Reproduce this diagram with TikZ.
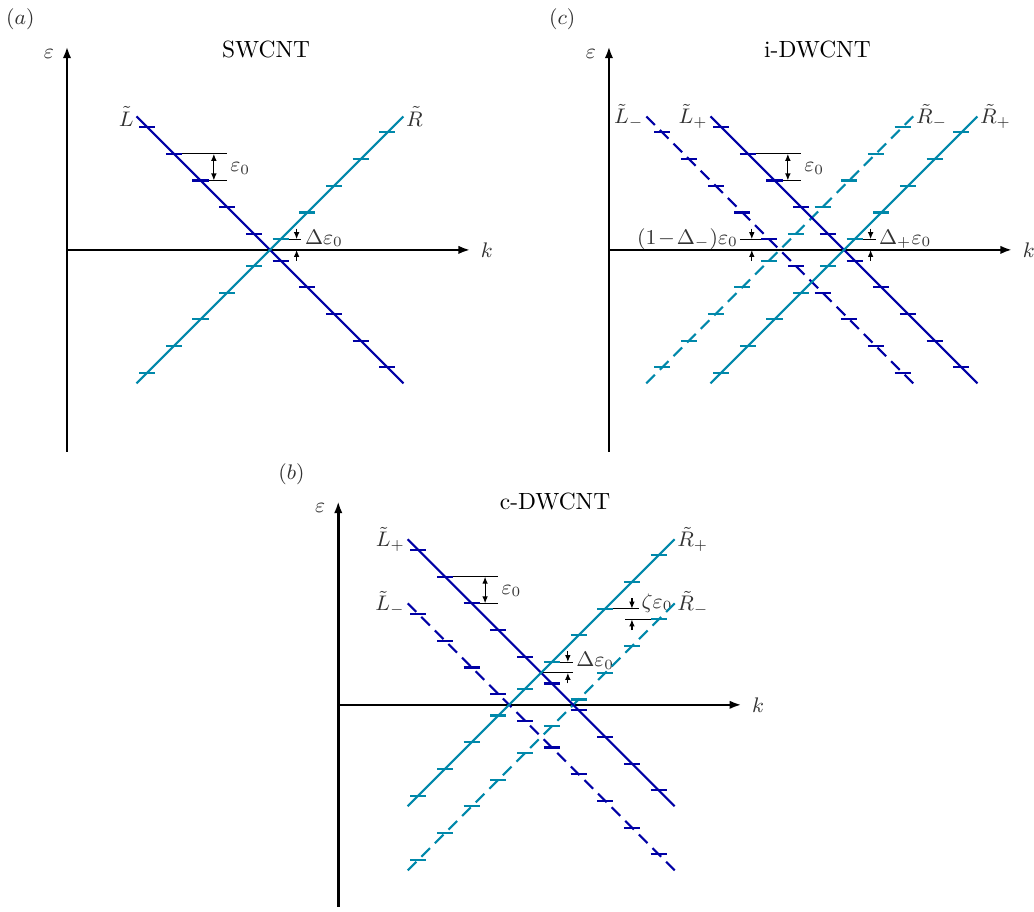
\documentclass[tikz,border=0pt]{standalone}
\usepackage{amsmath, amssymb}
\usepackage{tikz}
\usetikzlibrary{arrows.meta}
\usepackage{xcolor}
\definecolor{bandblue}{RGB}{0,0,165}
\definecolor{bandteal}{RGB}{0,136,170}

\tikzset{
  axis/.style={line width=1.1pt,-{Latex[length=5pt,width=3.6pt]}},
  lbranch/.style={bandblue,line width=0.9pt},
  rbranch/.style={bandteal,line width=0.9pt},
  dashbranch/.style={dash pattern=on 5.2pt off 3pt},
  guide/.style={line width=0.5pt},
  gap/.style={line width=0.5pt,-{Latex[length=3pt,width=2.4pt]}},
  gapboth/.style={line width=0.5pt,{Latex[length=3pt,width=2.4pt]}-{Latex[length=3pt,width=2.4pt]}},
  lab/.style={text=black!80,inner sep=1pt,font=\small},
  tight/.style={text=black!80,inner sep=0pt,font=\small},
}

% branch with its levels: style, crossing x, crossing y, slope, level offset
\newcommand{\branch}[5]{%
  \draw[#1] ({#2-5*(#4)},{#3-5}) -- ({#2+5*(#4)},{#3+5});
  \foreach \n in {-5,...,4}{
    \draw[#1,solid] ({#2+(\n+#5)*(#4)-0.3},{#3+\n+#5}) -- ++(0.6,0);
  }}

% axes of one panel
\newcommand{\bandaxes}[1]{%
  \draw[axis] (0,-7.57) -- (0,7.62) node[lab,pos=1,left=4pt,yshift=-3pt] (eps-#1) {$\varepsilon$};
  \draw[axis] (0,0) -- (15.1,0) node[lab,right=3pt] (k-#1) {$k$};
}

\begin{document}
\begin{tikzpicture}[x=0.4cm,y=0.4cm]
  \useasboundingbox (-2.51,-24.79) rectangle (36.22,9.36);

  % (a) single wall
  \begin{scope}
    \bandaxes{a}
    \node[lab] (tag-a) at (-1.75,8.63) {$(a)$};
    \node (title-a) at (7.46,7.5) {SWCNT};
    % level spacing
    \draw[guide] (4.0,3.6) -- (6.0,3.6) (5.0,2.6) -- (6.0,2.6);
    \draw[gapboth] (5.5,2.6) -- (5.5,3.6);
    \node[tight,anchor=base west] (eps0-a) at (6.1,2.93) {$\varepsilon_0$};
    % offset from the Fermi level
    \draw[guide] (8.0,0.4) -- (8.75,0.4);
    \draw[gap] (8.6,0.8) -- (8.6,0.4);
    \draw[gap] (8.6,-0.4) -- (8.6,0);
    \node[tight,anchor=base west] (delta-a) at (8.9,0.22) {$\Delta\varepsilon_0$};
    \branch{lbranch}{7.6}{0}{-1}{0.6}
    \branch{rbranch}{7.6}{0}{1}{0.4}
    \node[lab,left] (L-a) at (2.6,5) {$\tilde L$};
    \node[lab,right] (R-a) at (12.6,5) {$\tilde R$};
  \end{scope}

  % (c) incommensurate double wall
  \begin{scope}[shift={(20.3,0)}]
    \bandaxes{c}
    \node[lab] (tag-c) at (-1.75,8.63) {$(c)$};
    \node (title-c) at (7.81,7.5) {i-DWCNT};
    \draw[guide] (5.2,3.6) -- (7.2,3.6) (6.2,2.6) -- (7.2,2.6);
    \draw[gapboth] (6.7,2.6) -- (6.7,3.6);
    \node[tight,anchor=base west] (eps0-c) at (7.3,2.93) {$\varepsilon_0$};
    \draw[guide] (9.2,0.4) -- (10.0,0.4);
    \draw[gap] (9.8,0.8) -- (9.8,0.4);
    \draw[gap] (9.8,-0.4) -- (9.8,0);
    \node[tight,anchor=base west] (deltap-c) at (10.1,0.22) {$\Delta_+\varepsilon_0$};
    \draw[guide] (4.9,0.4) -- (6.0,0.4);
    \draw[gap] (5.35,0.8) -- (5.35,0.4);
    \draw[gap] (5.35,-0.4) -- (5.35,0);
    \node[tight,anchor=base east] (deltam-c) at (4.85,0.22) {$\medmuskip=1.5mu(1-\Delta_-)\varepsilon_0$};
    \branch{lbranch,dashbranch}{6.4}{0}{-1}{0.4}
    \branch{rbranch,dashbranch}{6.4}{0}{1}{0.6}
    \branch{lbranch}{8.8}{0}{-1}{0.6}
    \branch{rbranch}{8.8}{0}{1}{0.4}
    \node[lab,left] (Lm-c) at (1.4,5) {$\tilde L_-$};
    \node[lab,left] (Lp-c) at (3.8,5) {$\tilde L_+$};
    \node[lab,right] (Rm-c) at (11.4,5) {$\tilde R_-$};
    \node[lab,right] (Rp-c) at (13.8,5) {$\tilde R_+$};
  \end{scope}

  % (b) commensurate double wall
  \begin{scope}[shift={(10.16,-17.04)}]
    \bandaxes{b}
    \node[lab] (tag-b) at (-1.75,8.63) {$(b)$};
    \node (title-b) at (8.12,7.6) {c-DWCNT};
    \draw[guide] (4.0,4.8) -- (6.0,4.8) (5.0,3.8) -- (6.0,3.8);
    \draw[gapboth] (5.5,3.8) -- (5.5,4.8);
    \node[tight,anchor=base west] (eps0-b) at (6.1,4.13) {$\varepsilon_0$};
    \draw[guide] (8.0,1.6) -- (8.8,1.6) (7.6,1.2) -- (8.8,1.2);
    \draw[gap] (8.6,2.0) -- (8.6,1.6);
    \draw[gap] (8.6,0.8) -- (8.6,1.2);
    \node[tight,anchor=base west] (delta-b) at (8.9,1.42) {$\Delta\varepsilon_0$};
    \draw[guide] (10.0,3.6) -- (11.25,3.6) (10.75,3.2) -- (12.0,3.2);
    \draw[gap] (11.0,4.0) -- (11.0,3.6);
    \draw[gap] (11.0,2.8) -- (11.0,3.2);
    \node[tight,anchor=base west] (zeta-b) at (11.35,3.62) {$\zeta\varepsilon_0$};
    \branch{lbranch,dashbranch}{7.6}{-1.2}{-1}{0.6}
    \branch{rbranch,dashbranch}{7.6}{-1.2}{1}{0.4}
    \branch{lbranch}{7.6}{1.2}{-1}{0.6}
    \branch{rbranch}{7.6}{1.2}{1}{0.4}
    \node[lab,left] (Lp-b) at (2.6,6.2) {$\tilde L_+$};
    \node[lab,right] (Rp-b) at (12.6,6.2) {$\tilde R_+$};
    \node[lab,left] (Lm-b) at (2.6,3.8) {$\tilde L_-$};
    \node[lab,right] (Rm-b) at (12.6,3.8) {$\tilde R_-$};
  \end{scope}
\end{tikzpicture}
\end{document}
